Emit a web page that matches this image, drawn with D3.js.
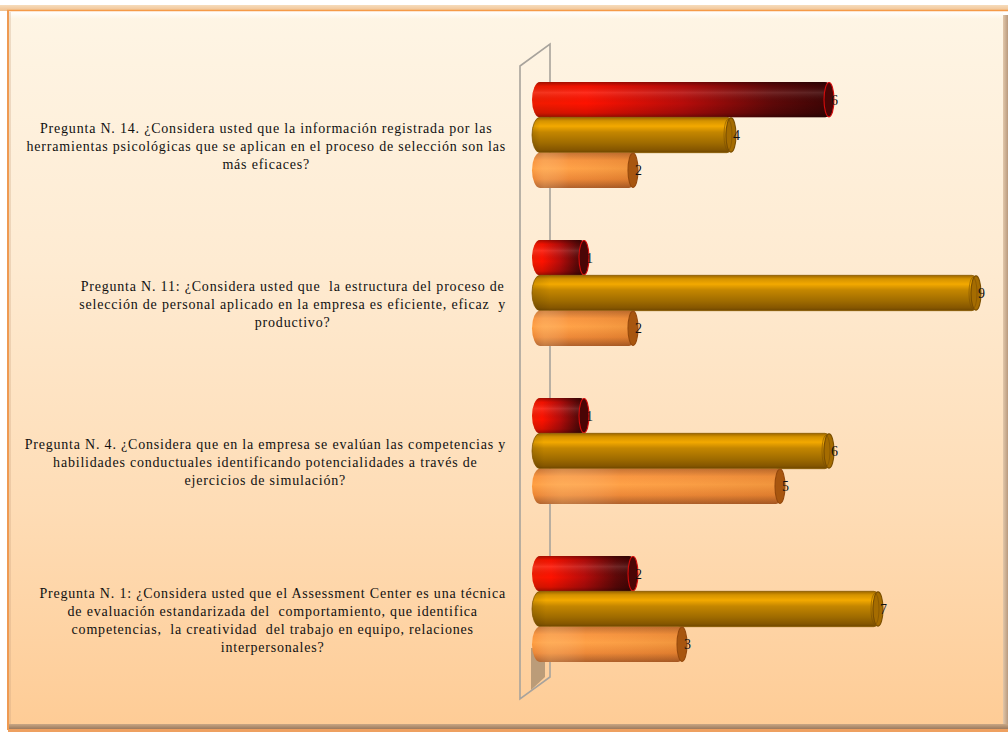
<!DOCTYPE html>
<html>
<head>
<meta charset="utf-8">
<script src="https://cdn.jsdelivr.net/npm/d3@7"></script>
<style>
  html, body { margin: 0; padding: 0; background: #ffffff; }
  svg { display: block; }
  .lab text { white-space: pre; }
</style>
</head>
<body>
<svg id="chart" width="1008" height="732"></svg>
<script>
// Survey questions (one category per bar group), wrapped as displayed
const categories = ["P14", "P11", "P4", "P1"];
const categoryLines = [
  ["Pregunta N. 14. ¿Considera usted que la información registrada por las",
   "herramientas psicológicas que se aplican en el proceso de selección son las",
   "más eficaces?"],
  ["Pregunta N. 11: ¿Considera usted que  la estructura del proceso de",
   "selección de personal aplicado en la empresa es eficiente, eficaz  y",
   "productivo?"],
  ["Pregunta N. 4. ¿Considera que en la empresa se evalúan las competencias y",
   "habilidades conductuales identificando potencialidades a través de",
   "ejercicios de simulación?"],
  ["Pregunta N. 1: ¿Considera usted que el Assessment Center es una técnica",
   "de evaluación estandarizada del  comportamiento, que identifica",
   "competencias,  la creatividad  del trabajo en equipo, relaciones",
   "interpersonales?"]
];

// Three answer series, drawn top to bottom within each group
const seriesKeys = ["rojo", "dorado", "naranja"];
const valuesRojo    = [6, 1, 1, 2];
const valuesDorado  = [4, 9, 6, 7];
const valuesNaranja = [2, 2, 5, 3];
const xDomain = [0, 9];

const seriesValues = { rojo: valuesRojo, dorado: valuesDorado, naranja: valuesNaranja };
const rows = categories.map((c, i) => ({
  key: c,
  lines: categoryLines[i],
  bars: seriesKeys.map(k => ({ key: k, value: seriesValues[k][i] }))
}));

const svg = d3.select("#chart");
const defs = svg.append("defs");

// ---------- frame ----------
function linGrad(id, x1, y1, x2, y2, stops) {
  const g = defs.append("linearGradient").attr("id", id)
    .attr("x1", x1).attr("y1", y1).attr("x2", x2).attr("y2", y2);
  stops.forEach(s => g.append("stop").attr("offset", s[0]).attr("stop-color", s[1])
    .attr("stop-opacity", s[2] == null ? 1 : s[2]));
  return g;
}
linGrad("bg", 0, 0, 0, 1, [[0, "#fef5e5"], [0.35, "#feebd2"], [0.7, "#fedcb5"], [1, "#fecc96"]]);
linGrad("topBand", 0, 0, 0, 1, [[0, "#f6dcbc"], [1, "#f0c08e"]]);
linGrad("topGloss", 0, 0, 0, 1, [[0, "#ffffff", 1], [1, "#ffffff", 0]]);
linGrad("rightShade", 0, 0, 1, 0, [[0, "#e2c7aa"], [1, "#b99a7e"]]);
linGrad("bottomShade", 0, 0, 0, 1, [[0, "#c9a784"], [1, "#9c7b5f"]]);

svg.append("rect").attr("x", 0).attr("y", 5).attr("width", 1008).attr("height", 6).attr("fill", "url(#topBand)");
svg.append("rect").attr("x", 1003).attr("y", 15).attr("width", 5).attr("height", 714).attr("fill", "url(#rightShade)");
svg.append("rect").attr("x", 8).attr("y", 724).attr("width", 1000).attr("height", 5).attr("fill", "url(#bottomShade)");
svg.append("rect").attr("x", 8).attr("y", 729).attr("width", 1000).attr("height", 3).attr("fill", "#eea060");
svg.append("rect").attr("x", 8).attr("y", 11).attr("width", 995).attr("height", 713).attr("fill", "url(#bg)");
svg.append("rect").attr("x", 9).attr("y", 11).attr("width", 994).attr("height", 8).attr("fill", "url(#topGloss)");
svg.append("line").attr("x1", 7).attr("x2", 1008).attr("y1", 10.5).attr("y2", 10.5)
  .attr("stroke", "#f59a48").attr("stroke-width", 1.5);
svg.append("line").attr("x1", 8).attr("x2", 8).attr("y1", 10).attr("y2", 730)
  .attr("stroke", "#ef9a52").attr("stroke-width", 2);
svg.append("line").attr("x1", 10).attr("x2", 10).attr("y1", 12).attr("y2", 724)
  .attr("stroke", "#c9a27e").attr("stroke-width", 1).attr("opacity", 0.6);

// ---------- scales ----------
const x = d3.scaleLinear().domain(xDomain).range([539, 980]);
const y0 = d3.scaleBand().domain(categories).range([56, 688]);
const y1 = d3.scaleBand().domain(seriesKeys).range([0, y0.bandwidth()]).paddingOuter(0.736);
const bh = y1.bandwidth();
const capLeft = 7;      // rounded cylinder end left of the zero line

// ---------- back wall ----------
const wallX0 = x(0) - 19, wallX1 = x(0) + 11, depth = 22;
const wallTop = y0.range()[0] + 10, wallBot = y0.range()[1] + 11;
svg.append("polygon")
  .attr("points", [[wallX0 + 11, wallBot - 51], [wallX1 - 5, wallBot - 51],
                   [wallX1 - 5, wallBot - 22], [wallX0 + 11, wallBot - 9]].join(" "))
  .attr("fill", "#b49674").attr("opacity", 0.9);
svg.append("path")
  .attr("d", `M${wallX0},${wallBot} L${wallX0},${wallTop} L${wallX1},${wallTop - depth} L${wallX1},${wallBot - depth} Z`)
  .attr("fill", "none").attr("stroke", "#a8a39c").attr("stroke-width", 1.6);

// ---------- bar gradients ----------
linGrad("rojoBase", 0, 0, 1, 0, [[0, "#f01c00"], [0.18, "#ff1200"], [0.5, "#b80c0a"], [0.8, "#5e0808"], [1, "#3a0404"]]);
linGrad("rojoShade", 0, 0, 0, 1, [[0, "#000000", 0.35], [0.12, "#000000", 0.05], [0.3, "#ffffff", 0.12],
                                [0.6, "#000000", 0.0], [0.88, "#000000", 0.15], [1, "#000000", 0.4]]);
linGrad("doradoBase", 0, 0, 0, 1, [[0, "#9c6600"], [0.1, "#d49200"], [0.25, "#f3a900"], [0.42, "#c48600"],
                                  [0.72, "#a06c00"], [0.92, "#855600"], [1, "#6e4600"]]);
linGrad("doradoShade", 0, 0, 1, 0, [[0, "#000000", 0.12], [0.04, "#000000", 0], [1, "#000000", 0]]);
linGrad("naranjaBase", 0, 0, 0, 1, [[0, "#c46e2c"], [0.22, "#f8923a"], [0.45, "#ff9e40"], [0.75, "#ec8430"], [1, "#ac5a22"]]);
linGrad("naranjaShade", 0, 0, 1, 0, [[0, "#ffffff", 0.0], [0.12, "#ffd8a0", 0.25], [0.35, "#ffffff", 0.04], [1, "#000000", 0.06]]);

const capFill = { rojo: "#4a0505", dorado: "#a56c00", naranja: "#a8560f" };
const capStroke = { rojo: "#d80c0c", dorado: "#7a4e00", naranja: "#94480c" };

// ---------- bars ----------
const groups = svg.append("g").selectAll("g.row").data(rows).join("g")
  .attr("class", "row")
  .attr("transform", d => `translate(0,${y0(d.key)})`);

const bars = groups.selectAll("g.bar").data(d => d.bars).join("g").attr("class", "bar");

bars.append("rect")
  .attr("x", x(0) - capLeft).attr("y", d => y1(d.key))
  .attr("width", d => x(d.value) - x(0) + capLeft).attr("height", bh)
  .attr("rx", 8).attr("ry", bh / 2)
  .attr("fill", d => `url(#${d.key}Base)`)
  .attr("stroke", d => d.key === "dorado" ? "#8a5c00" : "none").attr("stroke-width", 0.8);
bars.append("rect")
  .attr("x", x(0) - capLeft).attr("y", d => y1(d.key))
  .attr("width", d => x(d.value) - x(0) + capLeft).attr("height", bh)
  .attr("rx", 8).attr("ry", bh / 2)
  .attr("fill", d => `url(#${d.key}Shade)`);
// end caps
bars.append("ellipse")
  .attr("cx", d => x(d.value) - 4).attr("cy", d => y1(d.key) + bh / 2)
  .attr("rx", 5).attr("ry", bh / 2 - 0.5)
  .attr("fill", d => capFill[d.key])
  .attr("stroke", d => capStroke[d.key]).attr("stroke-width", 1.1);
bars.filter(d => d.key === "dorado").append("ellipse")
  .attr("cx", d => x(d.value) - 7).attr("cy", d => y1(d.key) + bh / 2)
  .attr("rx", 4).attr("ry", bh / 2 - 2)
  .attr("fill", "none").attr("stroke", "#7a4e00").attr("stroke-width", 0.8).attr("opacity", 0.7);

// value labels
bars.append("text")
  .attr("x", d => x(d.value) - 2).attr("y", d => y1(d.key) + bh / 2 + 5)
  .attr("font-family", "'Liberation Serif', 'Times New Roman', serif")
  .attr("font-size", 14).attr("fill", "#111")
  .text(d => d.value);

// ---------- category labels ----------
const labelRight = 506, lineH = 18;
const labels = svg.append("g").selectAll("g.lab").data(rows).join("g").attr("class", "lab");
labels.each(function (d) {
  const g = d3.select(this);
  const n = d.lines.length;
  const cy = y0(d.key) + y0.bandwidth() / 2 + 11;
  const texts = g.selectAll("text").data(d.lines).join("text")
    .attr("font-family", "'Liberation Serif', 'Times New Roman', serif")
    .attr("font-size", 14).attr("letter-spacing", 0.8).attr("fill", "#111")
    .attr("text-anchor", "middle")
    .attr("y", (t, i) => cy + (i - (n - 1) / 2) * lineH + 5)
    .text(t => t);
  let maxW = 0;
  texts.each(function () { maxW = Math.max(maxW, this.getComputedTextLength()); });
  texts.attr("x", labelRight - maxW / 2);
});
</script>
</body>
</html>
